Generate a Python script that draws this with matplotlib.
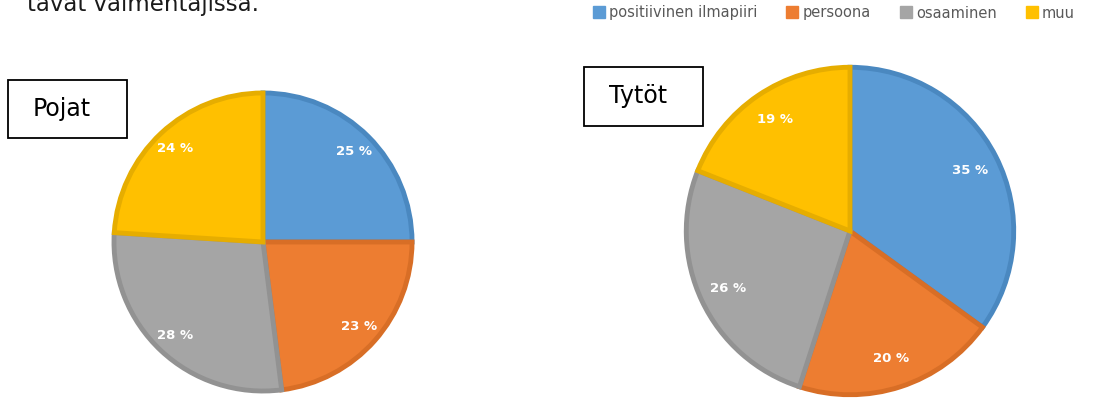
"""
Two pie charts (Pojat / Tytöt) of what players value in coaches.
"""

import matplotlib

matplotlib.use('Agg')
import matplotlib.patches as mpatches
import matplotlib.pyplot as plt

# ——— Data ————————————————————————————————————————————————————————————————
categories = ['positiivinen ilmapiiri', 'persoona', 'osaaminen', 'muu']
pojat = [25, 23, 28, 24]
tytot = [35, 20, 26, 19]

FILL = ['#5B9BD5', '#ED7D31', '#A5A5A5', '#FFC000']
EDGE = ['#4A88C0', '#D86E26', '#929292', '#E6AD00']

W, H = 1118, 412
fig = plt.figure(figsize=(W / 100, H / 100), dpi=100)
fig.patch.set_facecolor('white')


def px_axes(left, top, size):
    # axes placed in pixel coordinates measured from the top-left corner
    return fig.add_axes([left / W, (H - top - size) / H, size / W, size / H])


def draw_pie(ax, values, pctdist):
    wedges, _, autotexts = ax.pie(
        values,
        colors=FILL,
        startangle=90,
        counterclock=False,
        autopct=lambda p: f'{p:.0f} %',
        pctdistance=pctdist,
        wedgeprops={'linewidth': 3.5, 'joinstyle': 'miter'},
        textprops={'color': 'white', 'fontsize': 9.5, 'fontweight': 'bold'},
    )
    for w, ec in zip(wedges, EDGE):
        w.set_edgecolor(ec)
    ax.set_xlim(-1.02, 1.02)
    ax.set_ylim(-1.02, 1.02)
    ax.set_aspect('equal')
    ax.axis('off')


ax_l = px_axes(111, 90, 304)
draw_pie(ax_l, pojat, 0.86)

ax_r = px_axes(683, 64, 334)
draw_pie(ax_r, tytot, 0.82)

# ——— Title boxes ———————————————————————————————————————————————————————————
for (x0, y0, x1, y1), label in [((8, 80, 127, 138), 'Pojat'), ((584, 67, 703, 126), 'Tytöt')]:
    rect = mpatches.Rectangle(
        (x0 / W, 1 - y1 / H), (x1 - x0) / W, (y1 - y0) / H,
        transform=fig.transFigure, facecolor='white', edgecolor='black', lw=1.3,
    )
    fig.add_artist(rect)
    fig.text((x0 + 54) / W, 1 - (y0 + y1) / 2 / H, label,
             ha='center', va='center', fontsize=17, color='black')

# ——— Cut-off text line at the very top ————————————————————————————————————
fig.text(27 / W, 1 - 11 / H, 'tavat valmentajissa.', ha='left', va='baseline',
         fontsize=16.5, color='#1a1a1a')

# ——— Legend ———————————————————————————————————————————————————————————————
handles = [
    plt.Line2D([0], [0], marker='s', linestyle='none', markersize=8,
               markerfacecolor=c, markeredgecolor=c, label=lab)
    for c, lab in zip(FILL, categories)
]
fig.legend(
    handles=handles, loc='center', bbox_to_anchor=(834 / W, 1 - 13 / H),
    ncol=4, frameon=False, fontsize=10.5, labelcolor='#595959',
    handlelength=0.8, handletextpad=0.3, columnspacing=2.0,
)

fig.savefig('out.png', dpi=100, facecolor='white')
